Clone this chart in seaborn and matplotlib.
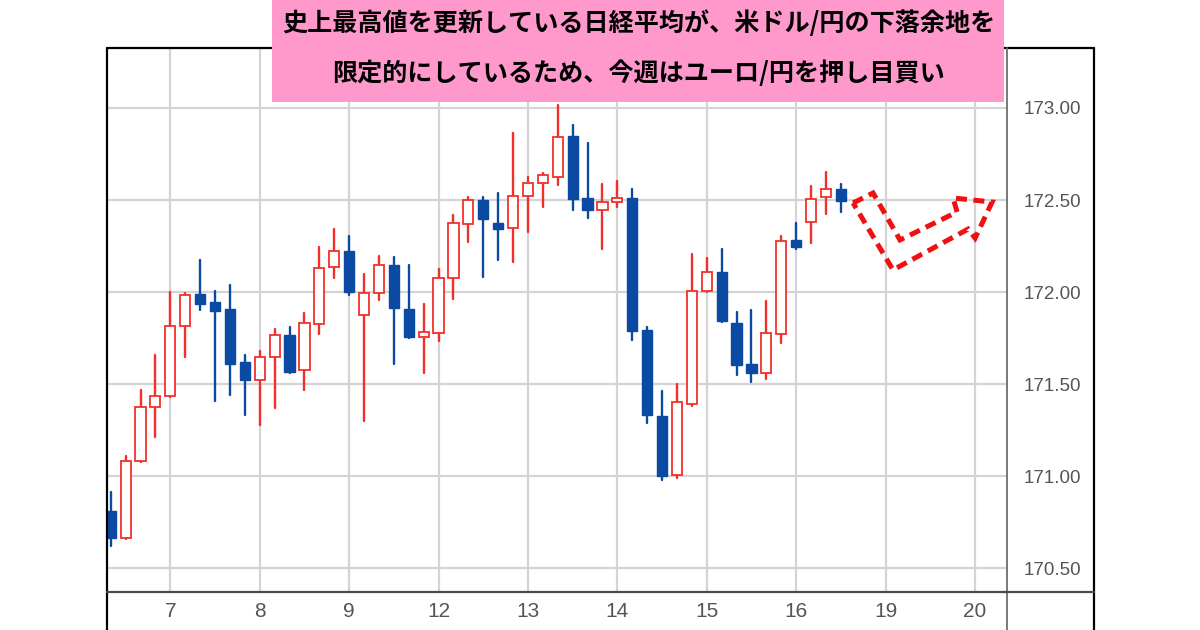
import matplotlib
matplotlib.use("Agg")
import matplotlib.pyplot as plt
from matplotlib import font_manager
from matplotlib.lines import Line2D
from matplotlib.patches import Rectangle, Polygon
import numpy as np
import pandas as pd
import seaborn as sns

# ---------------- data (EUR/JPY, 4-hour candles) ----------------
open_ = [170.81, 170.665, 171.08, 171.375, 171.435, 171.815, 171.987, 171.945, 171.91, 171.62,
         171.52, 171.647, 171.766, 171.576, 171.824, 172.134, 172.223, 171.873, 171.993, 172.147,
         171.908, 171.754, 171.78, 172.074, 172.37, 172.50, 172.373, 172.346, 172.523, 172.591,
         172.623, 172.848, 172.509, 172.446, 172.491, 172.509, 171.793, 171.328, 171.005, 171.391,
         172.005, 172.111, 171.833, 171.607, 171.562, 171.772, 172.283, 172.382, 172.515, 172.558]
high_ = [170.915, 171.11, 171.465, 171.66, 172.00, 171.995, 172.175, 172.005, 172.04, 171.66,
         171.68, 171.80, 171.81, 171.885, 172.246, 172.34, 172.306, 172.098, 172.197, 172.19,
         172.147, 171.935, 172.123, 172.418, 172.518, 172.518, 172.536, 172.866, 172.627, 172.645,
         173.016, 172.908, 172.811, 172.587, 172.605, 172.56, 171.808, 171.464, 171.498, 172.205,
         172.183, 172.232, 171.893, 171.902, 171.951, 172.304, 172.377, 172.578, 172.654, 172.587]
low_ = [170.62, 170.66, 171.075, 171.21, 171.43, 171.645, 171.905, 171.41, 171.44, 171.33,
        171.28, 171.37, 171.56, 171.467, 171.77, 172.074, 171.984, 171.30, 171.957, 171.61,
        171.75, 171.558, 171.735, 171.962, 172.273, 172.083, 172.174, 172.165, 172.324, 172.464,
        172.582, 172.446, 172.40, 172.234, 172.464, 171.74, 171.29, 170.978, 170.987, 171.38,
        172.0, 171.839, 171.549, 171.509, 171.526, 171.721, 172.232, 172.268, 172.422, 172.436]
close_ = [170.665, 171.08, 171.377, 171.437, 171.817, 171.984, 171.933, 171.897, 171.61, 171.52,
          171.647, 171.765, 171.567, 171.833, 172.13, 172.223, 171.998, 171.995, 172.147, 171.915,
          171.754, 171.781, 172.078, 172.373, 172.50, 172.395, 172.344, 172.523, 172.591, 172.636,
          172.844, 172.504, 172.446, 172.491, 172.509, 171.79, 171.332, 171.002, 171.402, 172.007,
          172.111, 171.844, 171.603, 171.562, 171.776, 172.279, 172.243, 172.505, 172.558, 172.496]

day_labels = ["7", "8", "9", "12", "13", "14", "15", "16", "19", "20"]
bars_per_day = 6          # 4-hour candles
bars_before_first_day = 4  # last bars of day 6 shown at the left

price_ticks = [170.5, 171.0, 171.5, 172.0, 172.5, 173.0]

title_lines = ["史上最高値を更新している日経平均が、米ドル/円の下落余地を",
               "限定的にしているため、今週はユーロ/円を押し目買い"]

# ---------------- style ----------------
RED = "#F2302A"
BLUE = "#0B4AA2"
GRID = "#d4d4d4"
TICK_COL = "#555555"

sns.set_theme(style="white")
plt.rcParams["font.family"] = ["Noto Sans CJK JP", "DejaVu Sans"]

avail = {f.name for f in font_manager.fontManager.ttflist}
if "Liberation Sans Narrow" in avail:
    tick_font = "Liberation Sans Narrow"
elif "Liberation Sans" in avail:
    tick_font = "Liberation Sans"
else:
    tick_font = "DejaVu Sans"

W, H = 1200, 630
fig = plt.figure(figsize=(12, 6.3), dpi=100)
fig.patch.set_facecolor("white")

def fx(px):
    return px / W

def fy(py):
    return 1 - py / H

L_PX, R_PX, T_PX, B_PX = 107, 1007, 48, 592
ax = fig.add_axes([fx(L_PX), fy(B_PX), (R_PX - L_PX) / W, (B_PX - T_PX) / H])
ax.set_facecolor("white")

n = len(open_)
idx = np.arange(n)
o = np.array(open_); c = np.array(close_)
hi = np.array(high_); lo = np.array(low_)
up = c >= o
kind = np.where(up, "up", "down")

# wicks through seaborn
wick_df = pd.DataFrame({
    "idx": np.concatenate([idx, idx]),
    "price": np.concatenate([lo, hi]),
    "kind": np.concatenate([kind, kind]),
})
sns.lineplot(data=wick_df, x="idx", y="price", units="idx", estimator=None,
             hue="kind", palette={"up": RED, "down": BLUE}, legend=False,
             linewidth=1.7, ax=ax, zorder=3)

# bodies
body_w = 0.68
bottoms = np.minimum(o, c)
heights = np.abs(c - o)
ax.bar(idx[up], heights[up], bottom=bottoms[up], width=body_w,
       color="white", edgecolor=RED, linewidth=1.3, zorder=4)
ax.bar(idx[~up], heights[~up], bottom=bottoms[~up], width=body_w,
       color=BLUE, edgecolor=BLUE, linewidth=1.0, zorder=4)

# axes ranges
ax.set_xlim(-0.25, 60.15)
ax.set_ylim(170.37, 173.326)

day_pos = [bars_before_first_day + bars_per_day * k for k in range(len(day_labels))]
ax.set_xticks(day_pos)
ax.set_xticklabels(day_labels)
ax.set_yticks(price_ticks)
ax.set_yticklabels([f"{v:.2f}" for v in price_ticks])
ax.yaxis.tick_right()
ax.tick_params(axis="y", length=0, pad=12, labelsize=13.5, labelcolor=TICK_COL)
ax.tick_params(axis="x", length=0, pad=7, labelsize=15, labelcolor=TICK_COL)
for lab in ax.get_xticklabels() + ax.get_yticklabels():
    lab.set_fontfamily(tick_font)
ax.set_xlabel("")
ax.set_ylabel("")

ax.grid(True, color=GRID, linewidth=1.6)
ax.set_axisbelow(True)
for s in ax.spines.values():
    s.set_visible(False)

# forecast arrow (dashed outline)
arrow_pts = [(49.82, 172.484), (51.16, 172.538), (52.97, 172.283), (56.80, 172.435),
             (56.53, 172.511), (59.15, 172.489), (58.01, 172.293), (57.54, 172.342),
             (52.50, 172.120)]
ax.add_patch(Polygon(arrow_pts, closed=True, fill=False, edgecolor="#F01010",
                     linewidth=3.6, linestyle=(0, (2.2, 1.3)), joinstyle="miter",
                     zorder=5))

# frame lines
frame = [
    ((107, 107), (48, 630), "black", 1.6),
    ((107, 1094), (48, 48), "black", 1.6),
    ((1094, 1094), (48, 630), "black", 1.6),
    ((1007, 1007), (48, 630), "#6e6e6e", 1.3),
    ((107, 1094), (592, 592), "#4a4a4a", 1.6),
]
for xs, ys, col, lw in frame:
    fig.add_artist(Line2D([fx(xs[0]), fx(xs[1])], [fy(ys[0]), fy(ys[1])],
                          transform=fig.transFigure, color=col, linewidth=lw, zorder=6))

# pink title box
fig.add_artist(Rectangle((fx(272), fy(102)), (1004 - 272) / W, 102 / H,
                         transform=fig.transFigure, facecolor="#FF99CC",
                         edgecolor="none", zorder=10))
fig.text(fx(639), fy(24), title_lines[0], ha="center", va="center",
         fontsize=18.1, fontweight="bold", color="black", zorder=11,
         family=["Noto Sans CJK JP", "DejaVu Sans"])
fig.text(fx(638), fy(73), title_lines[1], ha="center", va="center",
         fontsize=18.1, fontweight="bold", color="black", zorder=11,
         family=["Noto Sans CJK JP", "DejaVu Sans"])

fig.savefig("out.png", dpi=100, facecolor="white")
